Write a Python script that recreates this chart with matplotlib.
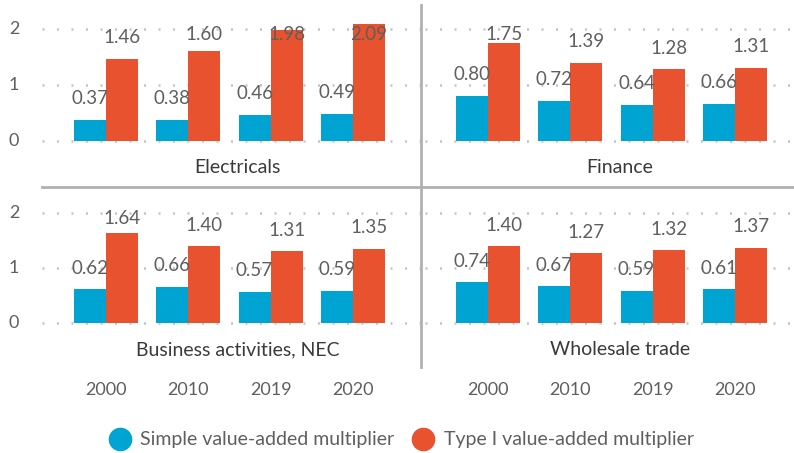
import matplotlib.pyplot as plt
from matplotlib.lines import Line2D
import numpy as np

plt.rcParams['font.family'] = ['Lato', 'DejaVu Sans']

years = ['2000', '2010', '2019', '2020']
sectors = ['Electricals', 'Finance', 'Business activities, NEC', 'Wholesale trade']
simple = [
    [0.37, 0.38, 0.46, 0.49],
    [0.80, 0.72, 0.64, 0.66],
    [0.62, 0.66, 0.57, 0.59],
    [0.74, 0.67, 0.59, 0.61],
]
type1 = [
    [1.46, 1.60, 1.98, 2.09],
    [1.75, 1.39, 1.28, 1.31],
    [1.64, 1.40, 1.31, 1.35],
    [1.40, 1.27, 1.32, 1.37],
]

BLUE = '#00a4d3'
ORANGE = '#e8522e'
TEXT = '#5f5f5f'
GRID = '#c4c4c4'
LINE = '#b0b0b0'

W, H = 794, 453
fig = plt.figure(figsize=(W / 100, H / 100), dpi=100)


def px_axes(x0, y0, x1, y1):
    # pixel box (top-left origin) -> figure axes
    return fig.add_axes([x0 / W, 1 - y1 / H, (x1 - x0) / W, (y1 - y0) / H])


# panel boxes in pixels: (x0, y0, x1, y1), zero line pixel, px per unit
panels = [
    (42, 10, 420, 185, 141, 56),
    (425, 10, 790, 185, 141, 56),
    (42, 192, 420, 370, 323, 55),
    (425, 192, 790, 370, 323, 55),
]
group_px = 82.3
first_center = [106, 488, 106, 488]
bw = 0.39
x = np.arange(len(years))

for i, (x0, y0, x1, y1, zero, ppu) in enumerate(panels):
    ax = px_axes(x0, y0, x1, y1)
    c0 = first_center[i]
    ax.set_xlim((x0 - c0) / group_px, (x1 - c0) / group_px)
    ax.set_ylim(-(y1 - zero) / ppu, (zero - y0) / ppu)
    for v in [0, 1, 2]:
        ax.axhline(v, color=GRID, lw=1.8, ls=(0, (0.8, 5)), zorder=0)
    ax.bar(x - bw / 2, simple[i], bw, color=BLUE, zorder=2)
    ax.bar(x + bw / 2, type1[i], bw, color=ORANGE, zorder=2)
    for xi, v in zip(x, simple[i]):
        ax.text(xi - bw / 2, min(v + 0.38, 1.9), f'{v:.2f}', ha='center',
                va='center', fontsize=13.5, color=TEXT, zorder=3)
    for xi, v in zip(x, type1[i]):
        ax.text(xi + bw / 2, min(v + 0.38, 1.9), f'{v:.2f}', ha='center',
                va='center', fontsize=13.5, color=TEXT, zorder=3)
    ax.text(1.6, -0.48, sectors[i], ha='center', va='center',
            fontsize=14, color='#3a3a3a')
    for s in ax.spines.values():
        s.set_visible(False)
    ax.set_xticks([])
    ax.set_yticks([])
    if i in (0, 2):
        for v in [0, 1, 2]:
            ax.text((14 - c0) / group_px, v, str(v), ha='center', va='center',
                    fontsize=13, color=TEXT, clip_on=False)
    if i >= 2:
        for xi, yr in zip(x, years):
            ax.text(xi, -(390 - zero) / ppu, yr, ha='center', va='center',
                    fontsize=13, color=TEXT, clip_on=False)
    ax.patch.set_alpha(0)

# divider lines
fig.add_artist(Line2D([42 / W, 1], [1 - 187 / H] * 2, color=LINE, lw=2))
fig.add_artist(Line2D([421 / W] * 2, [1 - 5 / H, 1 - 367 / H], color=LINE, lw=2))

handles = [
    Line2D([], [], marker='o', ls='', color=BLUE, markersize=16),
    Line2D([], [], marker='o', ls='', color=ORANGE, markersize=16),
]
fig.legend(handles, ['Simple value-added multiplier', 'Type I value-added multiplier'],
           loc='center', bbox_to_anchor=(0.5, 1 - 440 / H), ncol=2, frameon=False,
           prop={'size': 14}, labelcolor=TEXT,
           handletextpad=0.05, columnspacing=0.5)

fig.savefig('out.png', dpi=100)
